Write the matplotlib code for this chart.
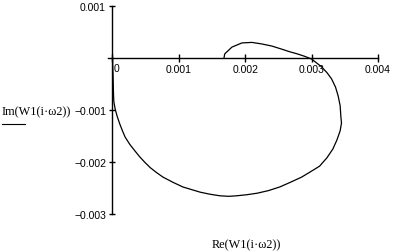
import matplotlib
matplotlib.use("Agg")
import matplotlib.pyplot as plt
from matplotlib.lines import Line2D

# Curve points (Re, Im)
re_vals = [0.00168, 0.00169, 0.00172, 0.00180, 0.00195, 0.00210, 0.00225, 0.00240,
           0.00255, 0.00267, 0.00279, 0.00290, 0.00300, 0.00308, 0.00315, 0.00323,
           0.00330, 0.00336, 0.00340, 0.00343, 0.00344, 0.00345, 0.00343, 0.00338,
           0.00332, 0.00323, 0.00312, 0.00298, 0.00285, 0.00268, 0.00252, 0.00235,
           0.00218, 0.00202, 0.00187, 0.00175, 0.00162, 0.00147, 0.00132, 0.00119,
           0.00106, 0.00091, 0.00076, 0.00066, 0.00057, 0.00049, 0.00041, 0.00034,
           0.00026, 0.00019, 0.00015, 0.00011, 0.00007, 0.00004, 0.00002, 0.000015,
           0.000008, 0.0]
im_vals = [0.0, 0.000077, 0.000115, 0.00021, 0.00029, 0.00030, 0.00027, 0.00023,
           0.00017, 0.00012, 0.000077, 0.00003, -0.00002, -0.00010, -0.00017, -0.00028,
           -0.00040, -0.00056, -0.00073, -0.00092, -0.00112, -0.00125, -0.00140, -0.00158,
           -0.00175, -0.00192, -0.00208, -0.00219, -0.00229, -0.00239, -0.00248, -0.00255,
           -0.00260, -0.00263, -0.00265, -0.00266, -0.00265, -0.00262, -0.00258, -0.00253,
           -0.00248, -0.00239, -0.00229, -0.00220, -0.00211, -0.00201, -0.00190, -0.00179,
           -0.00166, -0.00152, -0.00140, -0.00127, -0.00112, -0.00098, -0.00084, -0.00069,
           -0.00031, 0.0]

x_ticks = [0.0, 0.001, 0.002, 0.003, 0.004]
x_tick_labels = ["", "0.001", "0.002", "0.003", "0.004"]
y_ticks = [-0.003, -0.002, -0.001, 0.001]
y_tick_labels = ["\u22120.003", "\u22120.002", "\u22120.001", "0.001"]
x_label = "Re(W1(i\u00b7\u03c92))"
y_label = "Im(W1(i\u00b7\u03c92))"

W, H = 396, 253
fig = plt.figure(figsize=(W / 100, H / 100), dpi=100)
fig.patch.set_facecolor("white")

# axes placement in pixels
x0_px, x_per = 112.5, 66.4   # px of x=0, px per 0.001
xmin = -0.00007
left_px = x0_px + xmin / 0.001 * x_per
right_px = 378.0
top_px, bot_px = 7.0, 215.0
ax = fig.add_axes([left_px / W, (H - bot_px) / H, (right_px - left_px) / W, (bot_px - top_px) / H])
ax.set_xlim(xmin, 0.004)
ax.set_ylim(-0.003, 0.001)
ax.set_facecolor("white")

ax.plot(re_vals, im_vals, color="black", lw=0.9, solid_joinstyle="round")

for s in ["top", "right"]:
    ax.spines[s].set_visible(False)
ax.spines["left"].set_position(("data", 0))
ax.spines["bottom"].set_position(("data", 0))
for s in ["left", "bottom"]:
    ax.spines[s].set_linewidth(1.0)
    ax.spines[s].set_color("black")

ax.set_xticks(x_ticks)
ax.set_xticklabels(x_tick_labels)
ax.set_yticks(y_ticks)
ax.set_yticklabels(y_tick_labels)
ax.tick_params(axis="x", direction="inout", length=5.8, width=1.0, pad=1.5,
               labelsize=7.5, colors="black")
ax.tick_params(axis="y", direction="inout", length=4.3, width=1.0, pad=2.5,
               labelsize=7.5, colors="black")
for lab in ax.get_xticklabels() + ax.get_yticklabels():
    lab.set_fontfamily("Liberation Sans")

# "0" label shifted right of the vertical axis
ax.annotate("0", xy=(0, 0), xytext=(4.0 * 0.72, -1.5 - 4.3 * 0.5), textcoords="offset points",
            ha="center", va="top", fontsize=7.5, family="Liberation Sans")

# axis labels
fig.text(2 / W, (H - 112.5) / H, y_label, ha="left", va="center",
         fontsize=8.8, family="Liberation Serif")
fig.add_artist(Line2D([2 / W, 25 / W], [(H - 125) / H, (H - 125) / H],
                      color="black", lw=0.8, transform=fig.transFigure))
fig.text(246 / W, (H - 245.5) / H, x_label, ha="center", va="center",
         fontsize=8.8, family="Liberation Serif")

fig.savefig("out.png", dpi=100, facecolor="white")
